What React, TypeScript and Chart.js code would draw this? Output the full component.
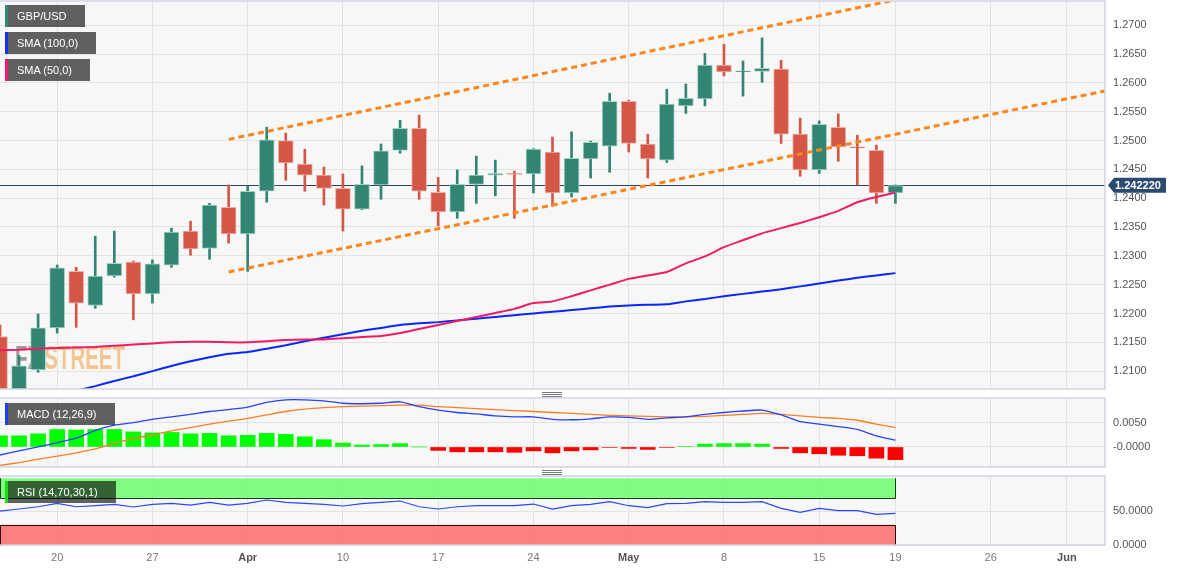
import React, { useEffect, useRef } from 'react';
import { Chart, registerables } from 'chart.js';

Chart.register(...registerables);

const FONT = '"Liberation Sans", Arial, sans-serif';

// Trading-day index: 0 = 15 Mar 2023 ... 47 = 19 May 2023 (GBP/USD daily)
const OPEN = [1.2160, 1.2060, 1.2102, 1.2175, 1.2273, 1.2214, 1.2265, 1.2289, 1.2234, 1.2284, 1.2343, 1.2313, 1.2384, 1.2338, 1.2412, 1.2500, 1.2459, 1.2440, 1.2417, 1.2381, 1.2423, 1.2483, 1.2521, 1.2410, 1.2376, 1.2424, 1.2440, 1.2443, 1.2442, 1.2480, 1.2409, 1.2468, 1.2490, 1.2568, 1.2494, 1.2466, 1.2560, 1.2572, 1.2631, 1.2619, 1.2620, 1.2624, 1.2511, 1.2449, 1.2523, 1.2489, 1.2483, 1.2409];
const HIGH = [1.2180, 1.2127, 1.2199, 1.2284, 1.2280, 1.2334, 1.2343, 1.2291, 1.2293, 1.2348, 1.2360, 1.2391, 1.2423, 1.2421, 1.2523, 1.2513, 1.2485, 1.2454, 1.2442, 1.2456, 1.2494, 1.2535, 1.2544, 1.2436, 1.2449, 1.2473, 1.2466, 1.2447, 1.2486, 1.2506, 1.2515, 1.2499, 1.2582, 1.2570, 1.2511, 1.2589, 1.2598, 1.2651, 1.2667, 1.2638, 1.2678, 1.2639, 1.2539, 1.2534, 1.2546, 1.2509, 1.2492, 1.2423];
const LOW = [1.2010, 1.2030, 1.2098, 1.2166, 1.2176, 1.2209, 1.2263, 1.2189, 1.2218, 1.2280, 1.2301, 1.2294, 1.2322, 1.2273, 1.2393, 1.2431, 1.2412, 1.2388, 1.2343, 1.2380, 1.2398, 1.2478, 1.2398, 1.2352, 1.2365, 1.2391, 1.2404, 1.2365, 1.2409, 1.2386, 1.2402, 1.2435, 1.2445, 1.2480, 1.2435, 1.2462, 1.2547, 1.2560, 1.2612, 1.2577, 1.2601, 1.2495, 1.2438, 1.2443, 1.2464, 1.2423, 1.2391, 1.2391];
const CLOSE = [1.2060, 1.2109, 1.2175, 1.2279, 1.2218, 1.2265, 1.2287, 1.2234, 1.2286, 1.2341, 1.2312, 1.2388, 1.2338, 1.2412, 1.2501, 1.2461, 1.2440, 1.2417, 1.2381, 1.2424, 1.2482, 1.2521, 1.2412, 1.2376, 1.2424, 1.2440, 1.2443, 1.2441, 1.2485, 1.2409, 1.2469, 1.2497, 1.2568, 1.2495, 1.2468, 1.2563, 1.2573, 1.2631, 1.2619, 1.2621, 1.2625, 1.2511, 1.2449, 1.2528, 1.2489, 1.2487, 1.2409, 1.2422];

const SMA50 = [1.2136, 1.2137, 1.2139, 1.2140, 1.2141, 1.2142, 1.2144, 1.2146, 1.2148, 1.2150, 1.2151, 1.2151, 1.2150, 1.2150, 1.2152, 1.2154, 1.2155, 1.2155, 1.2157, 1.2159, 1.2161, 1.2166, 1.2173, 1.2180, 1.2187, 1.2194, 1.2201, 1.2208, 1.2218, 1.2221, 1.2230, 1.2240, 1.2250, 1.2260, 1.2266, 1.2272, 1.2287, 1.2299, 1.2315, 1.2327, 1.2339, 1.2348, 1.2357, 1.2367, 1.2378, 1.2393, 1.2402, 1.2410];
const SMA100 = [1.2035, 1.2042, 1.2050, 1.2057, 1.2066, 1.2074, 1.2083, 1.2091, 1.2100, 1.2109, 1.2117, 1.2124, 1.2130, 1.2133, 1.2139, 1.2145, 1.2152, 1.2158, 1.2164, 1.2170, 1.2175, 1.2180, 1.2183, 1.2185, 1.2188, 1.2191, 1.2194, 1.2197, 1.2200, 1.2203, 1.2206, 1.2209, 1.2212, 1.2214, 1.2215, 1.2216, 1.2221, 1.2225, 1.2230, 1.2234, 1.2238, 1.2242, 1.2247, 1.2252, 1.2257, 1.2262, 1.2266, 1.2270];

const MACD_LINE = [-0.00165, -0.0008, 0.0000, 0.0009, 0.0018, 0.0034, 0.0045, 0.0050, 0.0057, 0.0062, 0.0067, 0.0073, 0.0077, 0.0082, 0.0092, 0.0097, 0.0097, 0.0095, 0.0090, 0.0089, 0.0090, 0.0093, 0.0083, 0.0076, 0.0071, 0.0068, 0.0064, 0.0062, 0.0062, 0.0057, 0.0056, 0.0058, 0.0062, 0.0061, 0.0057, 0.0060, 0.0062, 0.0067, 0.0071, 0.0074, 0.0076, 0.0066, 0.0052, 0.0047, 0.0042, 0.0036, 0.0023, 0.0014];
const MACD_SIGNAL = [-0.0038, -0.0032, -0.0025, -0.0019, -0.0012, -0.0004, 0.0008, 0.0017, 0.0025, 0.0033, 0.0040, 0.0047, 0.0053, 0.0059, 0.0066, 0.0073, 0.0078, 0.0081, 0.0083, 0.0084, 0.0085, 0.0086, 0.0086, 0.0083, 0.0081, 0.0079, 0.0077, 0.0075, 0.0073, 0.0071, 0.0069, 0.0067, 0.0065, 0.0064, 0.0063, 0.0062, 0.0062, 0.0063, 0.0065, 0.0067, 0.0069, 0.0067, 0.0064, 0.0061, 0.0059, 0.0055, 0.0047, 0.0040];
const MACD_HIST = [0.0023, 0.0023, 0.0027, 0.0036, 0.0035, 0.0036, 0.0036, 0.0031, 0.0029, 0.0030, 0.0027, 0.0028, 0.0023, 0.0024, 0.0028, 0.0026, 0.0021, 0.0015, 0.0008, 0.0004, 0.0005, 0.0007, 0.0000, -0.0007, -0.0010, -0.0010, -0.0010, -0.0011, -0.0008, -0.0012, -0.0008, -0.0006, -0.0001, -0.0003, -0.0005, -0.0001, 0.0001, 0.0006, 0.0007, 0.0007, 0.0006, -0.0003, -0.0012, -0.0014, -0.0017, -0.0018, -0.0023, -0.0026];

const RSI = [50.4, 53.4, 56.8, 61.9, 56.8, 58.5, 60.3, 56.4, 60.3, 61.9, 59.3, 63.3, 59.3, 61.9, 66.8, 63.3, 61.9, 60.3, 57.9, 61.3, 63.3, 65.3, 56.8, 53.4, 56.8, 58.3, 58.3, 58.3, 60.8, 53.4, 58.3, 60.3, 64.3, 58.3, 55.4, 61.3, 61.9, 64.3, 63.3, 63.3, 64.3, 54.4, 48.5, 54.4, 50.9, 50.9, 45.5, 47.0];

const CHANNEL_UPPER = [{ x: 12, y: 1.2502 }, { x: 47, y: 1.2744 }];
const CHANNEL_LOWER = [{ x: 12, y: 1.2272 }, { x: 58, y: 1.2586 }];
const LAST_PRICE = 1.24222;
const LAST_PRICE_LABEL = '1.242220';

const X_MIN = 0;
const X_MAX = 58;
const X_TICK_POS = [3, 8, 13, 18, 23, 28, 33, 38, 43, 47, 52, 56];
const X_TICK_LABELS = ['20', '27', 'Apr', '10', '17', '24', 'May', '8', '15', '19', '26', 'Jun'];
const X_TICK_BOLD = [false, false, true, false, false, false, true, false, false, false, false, true];

const PRICE_MIN = 1.2069;
const PRICE_MAX = 1.2742;
const PRICE_TICKS = [1.21, 1.215, 1.22, 1.225, 1.23, 1.235, 1.24, 1.245, 1.25, 1.255, 1.26, 1.265, 1.27];
const PRICE_TICK_LABELS = PRICE_TICKS.map((v) => v.toFixed(4));

const MACD_MIN = -0.00412;
const MACD_MAX = 0.01008;
const MACD_TICKS = [0, 0.005];
const MACD_TICK_LABELS = ['-0.0000', '0.0050'];

const RSI_MIN = 0;
const RSI_MAX = 102.4;
const RSI_TICKS = [0, 50];
const RSI_TICK_LABELS = ['0.0000', '50.0000'];
const RSI_OVERBOUGHT = [70, 99];
const RSI_OVERSOLD = [0, 30];

const GRID = '#e3e3e3';
const UP = '#338573';
const DOWN = '#d35646';

const IDX = OPEN.map((_, i) => i);

function xAxis(showLabels: boolean) {
  return {
    type: 'linear',
    min: X_MIN,
    max: X_MAX,
    offset: false,
    afterBuildTicks: (s: any) => {
      s.ticks = X_TICK_POS.map((v) => ({ value: v }));
    },
    afterFit: (s: any) => {
      s.height = showLabels ? 26 : 0;
      s.paddingLeft = 0;
      s.paddingRight = 0;
    },
    grid: { color: GRID, drawTicks: false, lineWidth: 1, offset: false },
    border: { display: false },
    ticks: {
      display: showLabels,
      autoSkip: false,
      maxRotation: 0,
      padding: 6,
      callback: (_v: any, i: number) => X_TICK_LABELS[i],
      color: (c: any) => (X_TICK_BOLD[c.index] ? '#555' : '#777'),
      font: (c: any) => ({ family: FONT, size: 11, weight: X_TICK_BOLD[c.index] ? 'bold' : 'normal' }),
    },
  };
}

function yAxis(min: number, max: number, ticks: number[], labels: string[]) {
  return {
    type: 'linear',
    position: 'right',
    min,
    max,
    afterBuildTicks: (s: any) => {
      s.ticks = ticks.map((v) => ({ value: v }));
    },
    afterFit: (s: any) => {
      s.width = 77;
      s.paddingTop = 0;
      s.paddingBottom = 0;
    },
    grid: { color: GRID, drawTicks: false, lineWidth: 1 },
    border: { display: false },
    ticks: {
      padding: 8,
      color: '#555',
      font: { family: FONT, size: 11 },
      callback: (_v: any, i: number) => labels[i],
    },
  };
}

const panelPlugin = {
  id: 'panelFrame',
  beforeDraw(chart: any) {
    const { ctx, chartArea: a } = chart;
    ctx.save();
    ctx.fillStyle = '#f7f7f7';
    ctx.fillRect(a.left, a.top, a.right - a.left, a.bottom - a.top);
    ctx.restore();
  },
  afterDraw(chart: any) {
    const { ctx, chartArea: a } = chart;
    ctx.save();
    ctx.strokeStyle = '#d0d5e2';
    ctx.lineWidth = 1.5;
    ctx.strokeRect(a.left - 1, a.top, a.right - a.left + 1, a.bottom - a.top);
    ctx.restore();
  },
};

const watermarkPlugin = {
  id: 'watermark',
  beforeDatasetsDraw(chart: any) {
    const { ctx } = chart;
    ctx.save();
    ctx.font = `bold 33px ${FONT}`;
    ctx.textBaseline = 'alphabetic';
    ctx.translate(15, 369);
    ctx.scale(0.62, 1);
    ctx.fillStyle = '#9c9c9c';
    ctx.fillText('FX', 0, 0);
    const w = ctx.measureText('FX').width;
    ctx.fillStyle = '#f3c690';
    ctx.fillText('STREET', w + 5, 0);
    ctx.restore();
  },
};

const lastPricePlugin = {
  id: 'lastPrice',
  beforeDatasetsDraw(chart: any) {
    const { ctx, chartArea: a, scales } = chart;
    const y = Math.round(scales.y.getPixelForValue(LAST_PRICE)) + 0.5;
    ctx.save();
    ctx.strokeStyle = '#2c4463';
    ctx.lineWidth = 1;
    ctx.beginPath();
    ctx.moveTo(a.left, y);
    ctx.lineTo(a.right, y);
    ctx.stroke();
    ctx.restore();
  },
  afterDraw(chart: any) {
    const { ctx, chartArea: a, scales } = chart;
    const y = scales.y.getPixelForValue(LAST_PRICE);
    const x0 = a.right + 3;
    ctx.save();
    ctx.fillStyle = '#2b4a70';
    ctx.beginPath();
    ctx.moveTo(x0, y);
    ctx.lineTo(x0 + 6, y - 7.5);
    ctx.lineTo(x0 + 58, y - 7.5);
    ctx.lineTo(x0 + 58, y + 7.5);
    ctx.lineTo(x0 + 6, y + 7.5);
    ctx.closePath();
    ctx.fill();
    ctx.fillStyle = '#ffffff';
    ctx.font = `bold 11px ${FONT}`;
    ctx.textBaseline = 'middle';
    ctx.textAlign = 'left';
    ctx.fillText(LAST_PRICE_LABEL, x0 + 7, y + 0.5);
    ctx.restore();
  },
};

const rsiBandsPlugin = {
  id: 'rsiBands',
  beforeDatasetsDraw(chart: any) {
    const { ctx, scales } = chart;
    const xl = scales.x.getPixelForValue(IDX[0]);
    const xr = scales.x.getPixelForValue(IDX[IDX.length - 1]);
    const gTop = scales.y.getPixelForValue(RSI_OVERBOUGHT[1]);
    const gBot = scales.y.getPixelForValue(RSI_OVERBOUGHT[0]);
    const rTop = scales.y.getPixelForValue(RSI_OVERSOLD[1]);
    const rBot = scales.y.getPixelForValue(RSI_OVERSOLD[0]);
    ctx.save();
    ctx.fillStyle = 'rgba(118,252,118,0.93)';
    ctx.fillRect(xl, gTop, xr - xl, gBot - gTop);
    ctx.fillStyle = 'rgba(252,118,118,0.93)';
    ctx.fillRect(xl, rTop, xr - xl, rBot - rTop);
    ctx.lineWidth = 1;
    ctx.strokeStyle = '#0e3f0e';
    ctx.beginPath();
    ctx.moveTo(xl + 0.5, gTop);
    ctx.lineTo(xl + 0.5, Math.round(gBot) + 0.5);
    ctx.lineTo(Math.round(xr) + 0.5, Math.round(gBot) + 0.5);
    ctx.lineTo(Math.round(xr) + 0.5, gTop);
    ctx.stroke();
    ctx.strokeStyle = '#2a0808';
    ctx.beginPath();
    ctx.moveTo(xl + 0.5, rBot);
    ctx.lineTo(xl + 0.5, Math.round(rTop) + 0.5);
    ctx.lineTo(Math.round(xr) + 0.5, Math.round(rTop) + 0.5);
    ctx.lineTo(Math.round(xr) + 0.5, rBot);
    ctx.stroke();
    ctx.restore();
  },
};

const baseOptions = {
  responsive: false,
  maintainAspectRatio: false,
  animation: false,
  events: [],
  plugins: { legend: { display: false }, tooltip: { enabled: false } },
};

function LegendTag(props: { top: number; width: number; color: string; text: string }) {
  return (
    <div
      style={{
        position: 'absolute',
        left: 5,
        top: props.top,
        width: props.width,
        height: 22,
        boxSizing: 'border-box',
        background: 'rgba(0,0,0,0.61)',
        borderLeft: `3px solid ${props.color}`,
        color: '#ffffff',
        font: `11px ${FONT}`,
        lineHeight: '22px',
        paddingLeft: 9,
        whiteSpace: 'nowrap',
      }}
    >
      {props.text}
    </div>
  );
}

function Grip(props: { top: number }) {
  const line = (t: number) => (
    <div style={{ position: 'absolute', left: 0, top: t, width: 20, height: 1, background: '#7a7a7a' }} />
  );
  return (
    <div style={{ position: 'absolute', left: 542, top: props.top, width: 20, height: 6 }}>
      {line(0)}
      {line(2)}
      {line(4)}
    </div>
  );
}

export default function App() {
  const mainRef = useRef<HTMLCanvasElement>(null);
  const macdRef = useRef<HTMLCanvasElement>(null);
  const rsiRef = useRef<HTMLCanvasElement>(null);

  useEffect(() => {
    document.body.style.margin = '0';
    const up = (i: number) => CLOSE[i] >= OPEN[i];

    const main = new Chart(mainRef.current as HTMLCanvasElement, {
      type: 'bar',
      data: {
        datasets: [
          {
            type: 'line',
            data: CHANNEL_UPPER,
            borderColor: '#fb861c',
            borderWidth: 3,
            borderDash: [6, 4],
            pointRadius: 0,
            clip: 0,
            order: -2,
          },
          {
            type: 'line',
            data: CHANNEL_LOWER,
            borderColor: '#fb861c',
            borderWidth: 3,
            borderDash: [6, 4],
            pointRadius: 0,
            clip: 0,
            order: -2,
          },
          {
            type: 'line',
            data: IDX.map((i) => ({ x: i, y: SMA50[i] })),
            borderColor: '#ee1c64',
            borderWidth: 2,
            pointRadius: 0,
            tension: 0.2,
            clip: 0,
            order: -1,
          },
          {
            type: 'line',
            data: IDX.map((i) => ({ x: i, y: SMA100[i] })),
            borderColor: '#0a26ff',
            borderWidth: 2,
            pointRadius: 0,
            tension: 0.2,
            clip: 0,
            order: -1,
          },
          {
            type: 'bar',
            data: IDX.map((i) => ({ x: i, y: [OPEN[i], CLOSE[i]] })),
            backgroundColor: (c: any) => (up(c.dataIndex) ? UP : DOWN),
            borderColor: (c: any) => (up(c.dataIndex) ? '#a6d3c6' : '#eeb2a8'),
            borderWidth: 1,
            borderSkipped: false,
            barThickness: 15,
            grouped: false,
            clip: 0,
            order: 1,
          },
          {
            type: 'bar',
            data: IDX.map((i) => ({ x: i, y: [LOW[i], HIGH[i]] })),
            backgroundColor: (c: any) => (up(c.dataIndex) ? UP : DOWN),
            borderWidth: 0,
            barThickness: 2,
            grouped: false,
            clip: 0,
            order: 2,
          },
        ],
      } as any,
      options: {
        ...baseOptions,
        layout: { padding: { top: 1, bottom: 1, left: 0, right: 0 } },
        scales: {
          x: xAxis(false),
          y: yAxis(PRICE_MIN, PRICE_MAX, PRICE_TICKS, PRICE_TICK_LABELS),
        },
      } as any,
      plugins: [panelPlugin, watermarkPlugin, lastPricePlugin],
    });

    const macd = new Chart(macdRef.current as HTMLCanvasElement, {
      type: 'bar',
      data: {
        datasets: [
          {
            type: 'line',
            data: IDX.map((i) => ({ x: i, y: MACD_LINE[i] })),
            borderColor: '#2543ff',
            borderWidth: 1.3,
            pointRadius: 0,
            tension: 0.2,
            clip: 0,
            order: -1,
          },
          {
            type: 'line',
            data: IDX.map((i) => ({ x: i, y: MACD_SIGNAL[i] })),
            borderColor: '#ff7d22',
            borderWidth: 1.3,
            pointRadius: 0,
            tension: 0.2,
            clip: 0,
            order: -1,
          },
          {
            type: 'bar',
            data: IDX.map((i) => ({ x: i, y: MACD_HIST[i] })),
            backgroundColor: (c: any) => (MACD_HIST[c.dataIndex] >= 0 ? '#00ff00' : '#ff0000'),
            borderWidth: 0,
            barThickness: 15,
            grouped: false,
            clip: 0,
            order: 1,
          },
        ],
      } as any,
      options: {
        ...baseOptions,
        layout: { padding: { top: 8, bottom: 3, left: 0, right: 0 } },
        scales: {
          x: xAxis(false),
          y: yAxis(MACD_MIN, MACD_MAX, MACD_TICKS, MACD_TICK_LABELS),
        },
      } as any,
      plugins: [panelPlugin],
    });

    const rsi = new Chart(rsiRef.current as HTMLCanvasElement, {
      type: 'line',
      data: {
        datasets: [
          {
            data: IDX.map((i) => ({ x: i, y: RSI[i] })),
            borderColor: '#2849ff',
            borderWidth: 1.2,
            pointRadius: 0,
            tension: 0,
            clip: 0,
          },
        ],
      } as any,
      options: {
        ...baseOptions,
        layout: { padding: { top: 6, bottom: 0, left: 0, right: 0 } },
        scales: {
          x: xAxis(true),
          y: yAxis(RSI_MIN, RSI_MAX, RSI_TICKS, RSI_TICK_LABELS),
        },
      } as any,
      plugins: [panelPlugin, rsiBandsPlugin],
    });

    return () => {
      main.destroy();
      macd.destroy();
      rsi.destroy();
    };
  }, []);

  return (
    <div style={{ position: 'fixed', left: 0, top: 0, width: 1182, height: 571, background: '#ffffff', overflow: 'hidden' }}>
      <canvas ref={mainRef} width={1182} height={390} style={{ position: 'absolute', left: 0, top: 0, width: 1182, height: 390 }} />
      <canvas ref={macdRef} width={1182} height={80} style={{ position: 'absolute', left: 0, top: 390, width: 1182, height: 80 }} />
      <canvas ref={rsiRef} width={1182} height={101} style={{ position: 'absolute', left: 0, top: 470, width: 1182, height: 101 }} />
      <LegendTag top={5} width={80} color="#2f8a75" text="GBP/USD" />
      <LegendTag top={32} width={91} color="#1030ff" text="SMA (100,0)" />
      <LegendTag top={59} width={85} color="#f01a6a" text="SMA (50,0)" />
      <LegendTag top={403} width={110} color="#1a3cff" text="MACD (12,26,9)" />
      <LegendTag top={481} width={111} color="#10e010" text="RSI (14,70,30,1)" />
      <Grip top={392} />
      <Grip top={470} />
    </div>
  );
}
